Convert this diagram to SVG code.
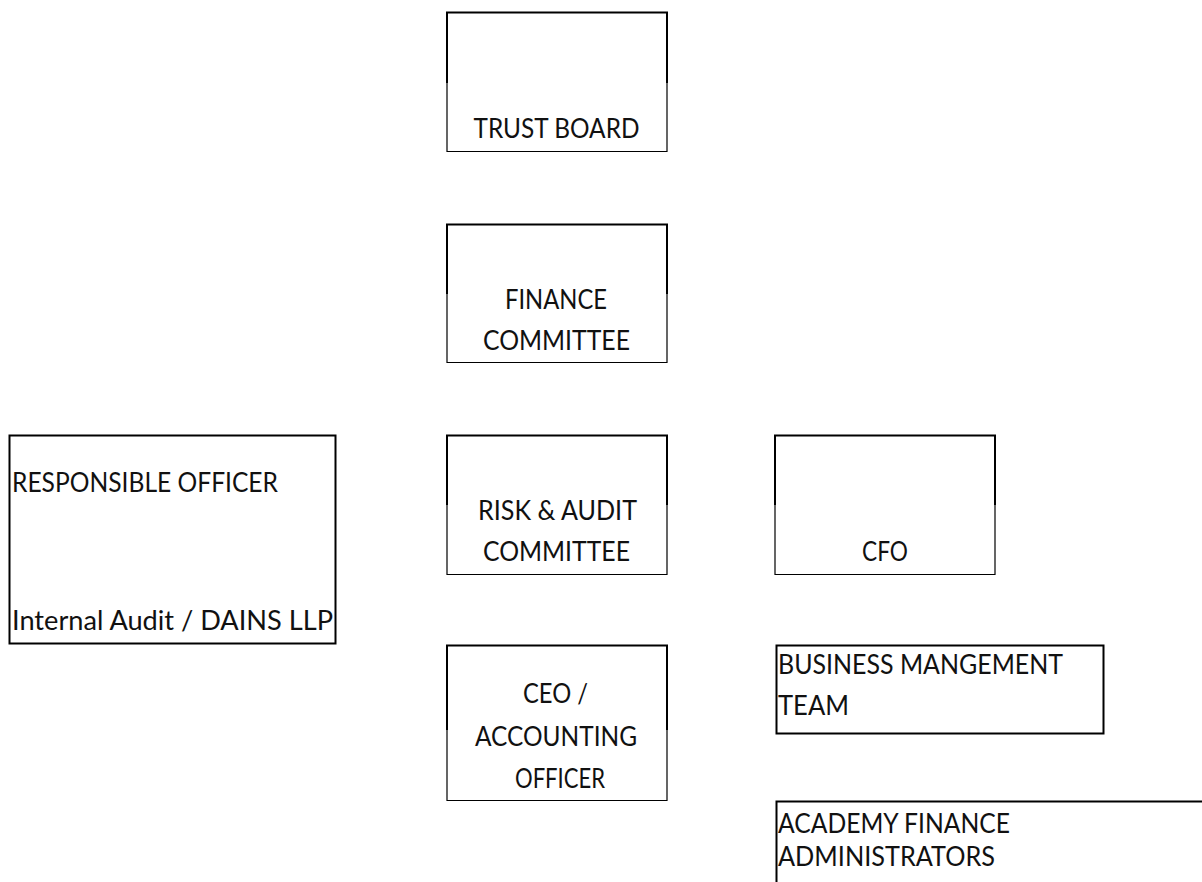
<svg xmlns="http://www.w3.org/2000/svg" width="1202" height="882" viewBox="0 0 1202 882">
<style>
.thick{fill:none;stroke:#000;stroke-width:2}
.thin{fill:none;stroke:#000;stroke-width:1.2}
text{font-family:Lato,"Open Sans","Liberation Sans",sans-serif;font-size:26px;fill:#111}
.c{text-anchor:middle}
</style>
<rect width="1202" height="882" fill="#fff"/>
<g id="connectors"/>
<g id="trust-board">
<path class="thick" d="M447,83 V12.5 H667 V83"/>
<path class="thin" d="M447,83 V151.5 H667 V83"/>
<text class="c" x="556.5" y="138" textLength="166" lengthAdjust="spacingAndGlyphs">TRUST BOARD</text>
</g>
<g id="finance-committee">
<path class="thick" d="M447,294 V224.5 H667 V294"/>
<path class="thin" d="M447,294 V362.5 H667 V294"/>
<text class="c" x="556" y="309" textLength="102" lengthAdjust="spacingAndGlyphs">FINANCE</text>
<text class="c" x="556.5" y="350" textLength="147" lengthAdjust="spacingAndGlyphs">COMMITTEE</text>
</g>
<g id="responsible-officer">
<rect class="thick" x="9.5" y="435.5" width="326" height="208"/>
<text x="12" y="492" textLength="266" lengthAdjust="spacingAndGlyphs">RESPONSIBLE OFFICER</text>
<text x="12" y="630" textLength="321" lengthAdjust="spacingAndGlyphs">Internal Audit / DAINS LLP</text>
</g>
<g id="risk-audit-committee">
<path class="thick" d="M447,505 V435.5 H667 V505"/>
<path class="thin" d="M447,505 V574.5 H667 V505"/>
<text class="c" x="557.5" y="520" textLength="159" lengthAdjust="spacingAndGlyphs">RISK &amp; AUDIT</text>
<text class="c" x="556.5" y="561" textLength="147" lengthAdjust="spacingAndGlyphs">COMMITTEE</text>
</g>
<g id="cfo">
<path class="thick" d="M775,505 V435.5 H995 V505"/>
<path class="thin" d="M775,505 V574.5 H995 V505"/>
<text class="c" x="885" y="561" textLength="46" lengthAdjust="spacingAndGlyphs">CFO</text>
</g>
<g id="ceo">
<path class="thick" d="M447,730 V645.5 H667 V730"/>
<path class="thin" d="M447,730 V800.5 H667 V730"/>
<text class="c" x="555.5" y="703" textLength="65" lengthAdjust="spacingAndGlyphs">CEO /</text>
<text class="c" x="556" y="746" textLength="162" lengthAdjust="spacingAndGlyphs">ACCOUNTING</text>
<text class="c" x="560" y="788" textLength="90" lengthAdjust="spacingAndGlyphs">OFFICER</text>
</g>
<g id="business-management-team">
<rect class="thick" x="776.5" y="645.5" width="327" height="88"/>
<text x="778" y="674" textLength="285" lengthAdjust="spacingAndGlyphs">BUSINESS MANGEMENT</text>
<text x="778" y="715" textLength="71" lengthAdjust="spacingAndGlyphs">TEAM</text>
</g>
<g id="academy-finance-administrators">
<path class="thick" d="M776.5,882 V801.5 H1202"/>
<text x="778" y="833" textLength="232" lengthAdjust="spacingAndGlyphs">ACADEMY FINANCE</text>
<text x="778" y="866" textLength="217" lengthAdjust="spacingAndGlyphs">ADMINISTRATORS</text>
</g>
</svg>
